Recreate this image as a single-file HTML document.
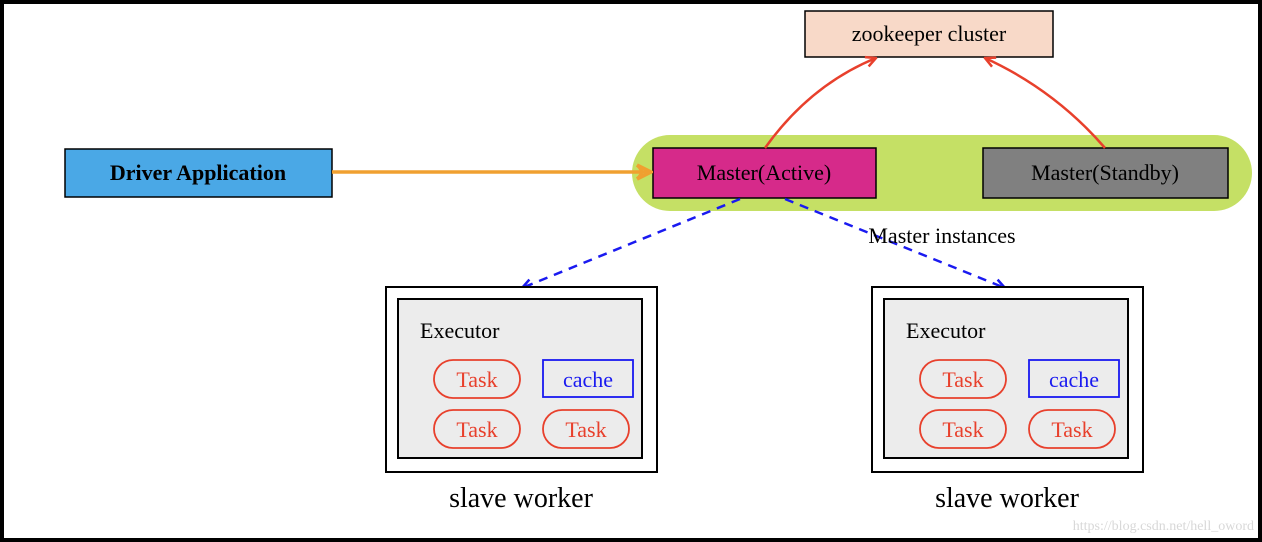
<!DOCTYPE html>
<html><head><meta charset="utf-8"><style>
html,body{margin:0;padding:0;background:#fff;}
svg{display:block;}
text{font-family:"Liberation Serif",serif;}
</style></head><body>
<svg width="1262" height="542" viewBox="0 0 1262 542" xmlns="http://www.w3.org/2000/svg">
<defs>
<marker id="ao" viewBox="0 0 10 10" refX="9" refY="5" markerWidth="5" markerHeight="5" orient="auto"><path d="M1,1 Q6,5 1,9 M1,1 L9,5 L1,9" fill="none" stroke="#f0a030" stroke-width="2"/></marker>
<marker id="ar" viewBox="0 0 10 10" refX="9" refY="5" markerWidth="5" markerHeight="5" orient="auto"><path d="M1,1 L9,5 L1,9" fill="none" stroke="#e8402c" stroke-width="2"/></marker>
<marker id="ab" viewBox="0 0 10 10" refX="9" refY="5" markerWidth="5" markerHeight="5" orient="auto"><path d="M1,1 L9,5 L1,9" fill="none" stroke="#1a1af0" stroke-width="2"/></marker>
</defs>
<rect x="2" y="2" width="1258" height="538" fill="#fff" stroke="#000" stroke-width="4"/>
<rect x="805" y="11" width="248" height="46" fill="#f8d9c8" stroke="#000" stroke-width="1.5"/>
<text x="929" y="41" font-size="22" text-anchor="middle">zookeeper cluster</text>
<rect x="632" y="135" width="620" height="76" rx="38" fill="#c5e065"/>
<rect x="653" y="148" width="223" height="50" fill="#d62a8a" stroke="#000" stroke-width="1.5"/>
<text x="764" y="180" font-size="22" text-anchor="middle">Master(Active)</text>
<rect x="983" y="148" width="245" height="50" fill="#808080" stroke="#000" stroke-width="1.5"/>
<text x="1105" y="180" font-size="22" text-anchor="middle">Master(Standby)</text>
<rect x="65" y="149" width="267" height="48" fill="#4aa8e6" stroke="#000" stroke-width="1.5"/>
<text x="198" y="180" font-size="22" text-anchor="middle" font-weight="bold">Driver Application</text>
<line x1="332" y1="172" x2="651" y2="172" stroke="#f0a030" stroke-width="3.5" marker-end="url(#ao)"/>
<path d="M765,148 Q810,85 876,58" fill="none" stroke="#e8402c" stroke-width="2.5" marker-end="url(#ar)"/>
<path d="M1105,148 Q1055,90 985,58" fill="none" stroke="#e8402c" stroke-width="2.5" marker-end="url(#ar)"/>
<line x1="740" y1="199" x2="522" y2="288" stroke="#1a1af0" stroke-width="2.5" stroke-dasharray="9,7" marker-end="url(#ab)"/>
<line x1="785" y1="199" x2="1005" y2="288" stroke="#1a1af0" stroke-width="2.5" stroke-dasharray="9,7" marker-end="url(#ab)"/>
<text x="942" y="243" font-size="22" text-anchor="middle">Master instances</text>
<g id="w">
<rect x="386" y="287" width="271" height="185" fill="#fff" stroke="#000" stroke-width="2"/>
<rect x="398" y="299" width="244" height="159" fill="#ececec" stroke="#000" stroke-width="2"/>
<text x="420" y="338" font-size="22">Executor</text>
<rect x="434" y="360" width="86" height="38" rx="19" fill="none" stroke="#e8402c" stroke-width="1.8"/>
<text x="477" y="387" font-size="22" fill="#e8402c" text-anchor="middle">Task</text>
<rect x="543" y="360" width="90" height="37" fill="none" stroke="#1a1af0" stroke-width="1.8"/>
<text x="588" y="387" font-size="22" fill="#1a1af0" text-anchor="middle">cache</text>
<rect x="434" y="410" width="86" height="38" rx="19" fill="none" stroke="#e8402c" stroke-width="1.8"/>
<text x="477" y="437" font-size="22" fill="#e8402c" text-anchor="middle">Task</text>
<rect x="543" y="410" width="86" height="38" rx="19" fill="none" stroke="#e8402c" stroke-width="1.8"/>
<text x="586" y="437" font-size="22" fill="#e8402c" text-anchor="middle">Task</text>
<text x="521" y="507" font-size="28" text-anchor="middle">slave worker</text>
</g>
<use href="#w" x="486" y="0"/>
<text x="1254" y="530" font-size="14" fill="#d8d8d8" text-anchor="end" font-family="Liberation Sans,sans-serif">https://blog.csdn.net/hell_oword</text>
</svg>
</body></html>
